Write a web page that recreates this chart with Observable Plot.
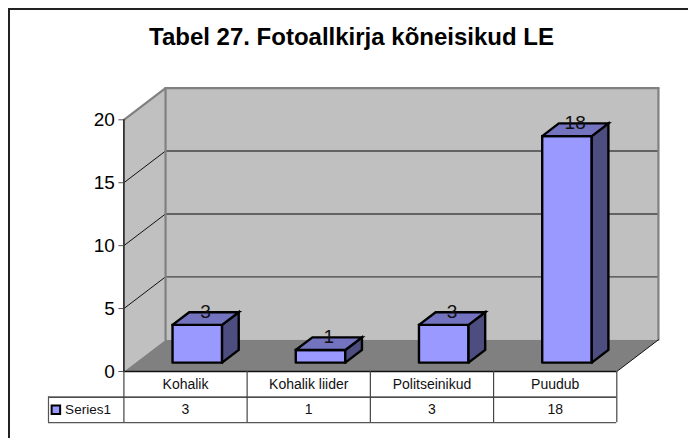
<!DOCTYPE html>
<html>
<head>
<meta charset="utf-8">
<script src="https://cdn.jsdelivr.net/npm/d3@7"></script>
<script src="https://cdn.jsdelivr.net/npm/@observablehq/plot@0.6"></script>
<style>
  html, body { margin: 0; padding: 0; background: #fff; }
  #page { position: relative; width: 688px; height: 438px; overflow: hidden; font-family: "Liberation Sans", Arial, sans-serif; }
  #box { position: absolute; left: 8px; top: 8px; width: 700px; height: 460px; border-left: 2px solid #222; border-top: 2px solid #222; }
  #title { position: absolute; left: 0; width: 703px; top: 23px; text-align: center; font-size: 24px; font-weight: bold; color: #000; line-height: 28px; }
  #chart { position: absolute; left: 0; top: 0; }
  #chart svg { display: block; }
</style>
</head>
<body>
<div id="page">
  <div id="box"></div>
  <div id="chart"></div>
  <div id="title">Tabel 27. Fotoallkirja kõneisikud LE</div>
</div>
<script>
const categories = ["Kohalik", "Kohalik liider", "Politseinikud", "Puudub"];
const values = [3, 1, 3, 18];
const seriesName = "Series1";
const yTicks = [0, 5, 10, 15, 20];
const innerGrid = [5, 10, 15];

// oblique projection of the chart's depth axis, in scale units
const depthX = 0.338, depthY = 2.52;
const px = (c, d) => c + d * depthX;
const py = (v, d) => v + d * depthY;
const maxV = 20, nCat = categories.length;

// closed polygon from [category, value, depth] corners
const poly = (key, corners) =>
  [...corners, corners[0]].map(([c, v, d]) => ({key, x: px(c, d), y: py(v, d)}));
const seg = (key, a, b) => poly(key, [a, b]).slice(0, 2);

const backWall = poly("back", [[0, 0, 1], [nCat, 0, 1], [nCat, maxV, 1], [0, maxV, 1]]);
const sideWall = poly("side", [[0, 0, 0], [0, 0, 1], [0, maxV, 1], [0, maxV, 0]]);
const floor = poly("floor", [[0, 0, 0], [nCat, 0, 0], [nCat, 0, 1], [0, 0, 1]]);

const wallEdges = [
  ...seg("a", [0, maxV, 0], [0, maxV, 1]),
  ...seg("b", [0, maxV, 1], [nCat, maxV, 1]),
  ...seg("c", [nCat, maxV, 1], [nCat, 0, 1]),
  ...seg("d", [0, maxV, 1], [0, 0, 1])
];
const sideGrid = innerGrid.flatMap((v) => seg("s" + v, [0, v, 0], [0, v, 1]));
const backGrid = innerGrid.flatMap((v) => seg("b" + v, [0, v, 1], [nCat, v, 1]));
const floorEdge = seg("e", [nCat, 0, 0], [nCat, 0, 1]);

// bars
const b0 = 0.3, bw = 0.402, d0 = 0.28, d1 = 0.68;
const fronts = values.flatMap((v, i) => poly(i, [[i + b0, 0, d0], [i + b0 + bw, 0, d0], [i + b0 + bw, v, d0], [i + b0, v, d0]]));
const rights = values.flatMap((v, i) => poly(i, [[i + b0 + bw, 0, d0], [i + b0 + bw, 0, d1], [i + b0 + bw, v, d1], [i + b0 + bw, v, d0]]));
const tops = values.flatMap((v, i) => poly(i, [[i + b0, v, d0], [i + b0 + bw, v, d0], [i + b0 + bw, v, d1], [i + b0, v, d1]]));
const labels = values.map((v, i) => ({x: px(i + 0.5, (d0 + d1) / 2), y: py(v, d1), v}));

// data table, below the axis, in the same scale units
const legendX = -0.612, rowH = 2.03;
const hLines = [
  {x1: 0, x2: nCat, y: 0, c: "#111"},
  {x1: legendX, x2: nCat, y: -rowH, c: "#111"},
  {x1: legendX, x2: nCat, y: -2 * rowH, c: "#555"}
];
const vLines = d3.range(0, nCat + 1).map((i) => ({x: i, y1: 0, y2: -2 * rowH}));
const catCells = categories.map((c, i) => ({x: i + 0.5, y: -rowH / 2 + 0.02, t: c}));
const valCells = values.map((v, i) => ({x: i + 0.5, y: -1.5 * rowH + 0.02, t: String(v)}));

const faceOpts = {x: "x", y: "y", z: "key", stroke: "#000", strokeWidth: 2.4, strokeLinejoin: "miter", strokeMiterlimit: 4};

const chart = Plot.plot({
  width: 688,
  height: 438,
  marginLeft: 123.4,
  marginRight: 71.7,
  marginTop: 119.3,
  marginBottom: 67,
  style: {background: "transparent", fontFamily: '"Liberation Sans", Arial, sans-serif'},
  x: {domain: [0, nCat], axis: null},
  y: {domain: [0, maxV], axis: null},
  marks: [
    Plot.line(backWall, {x: "x", y: "y", z: "key", fill: "#C0C0C0", stroke: "none"}),
    Plot.line(sideWall, {x: "x", y: "y", z: "key", fill: "#C0C0C0", stroke: "none"}),
    Plot.line(floor, {x: "x", y: "y", z: "key", fill: "#808080", stroke: "none"}),
    Plot.line(sideGrid, {x: "x", y: "y", z: "key", stroke: "#111", strokeWidth: 1}),
    Plot.line(backGrid, {x: "x", y: "y", z: "key", stroke: "#444", strokeWidth: 1.4}),
    Plot.line(wallEdges, {x: "x", y: "y", z: "key", stroke: "#808080", strokeWidth: 2.2}),
    Plot.line(floorEdge, {x: "x", y: "y", z: "key", stroke: "#111", strokeWidth: 1}),
    Plot.ruleX([0], {y1: 0, y2: maxV, stroke: "#333", strokeWidth: 1.8}),
    Plot.axisY({ticks: yTicks, tickSize: 5, tickPadding: 4, fontSize: 19, label: null, tickFormat: (d) => d, stroke: "#555", fill: "#000"}),
    Plot.line(fronts, {...faceOpts, fill: "#9999FF"}),
    Plot.line(rights, {...faceOpts, fill: "#4D4D80"}),
    Plot.line(tops, {...faceOpts, fill: "#7373BF"}),
    Plot.text(labels, {x: "x", y: "y", text: "v", fontSize: 19, fill: "#111"}),
    Plot.ruleY(hLines, {x1: "x1", x2: "x2", y: "y", stroke: "c", strokeWidth: 1.3}),
    Plot.ruleX(vLines, {x: "x", y1: "y1", y2: "y2", stroke: "#444", strokeWidth: 1.2}),
    Plot.ruleX([legendX], {y1: -rowH, y2: -2 * rowH, stroke: "#555", strokeWidth: 1.2}),
    Plot.text(catCells, {x: "x", y: "y", text: "t", fontSize: 14, fill: "#111"}),
    Plot.text(valCells, {x: "x", y: "y", text: "t", fontSize: 14, fill: "#111"}),
    Plot.dot([seriesName], {x: () => legendX + 0.06, y: () => -1.5 * rowH, symbol: "square", r: 4.8, fill: "#9999FF", stroke: "#000", strokeWidth: 2}),
    Plot.text([seriesName], {x: () => legendX + 0.135, y: () => -1.5 * rowH + 0.02, text: (d) => d, textAnchor: "start", fontSize: 13.5, fill: "#111"})
  ]
});
document.getElementById("chart").appendChild(chart);
</script>
</body>
</html>
